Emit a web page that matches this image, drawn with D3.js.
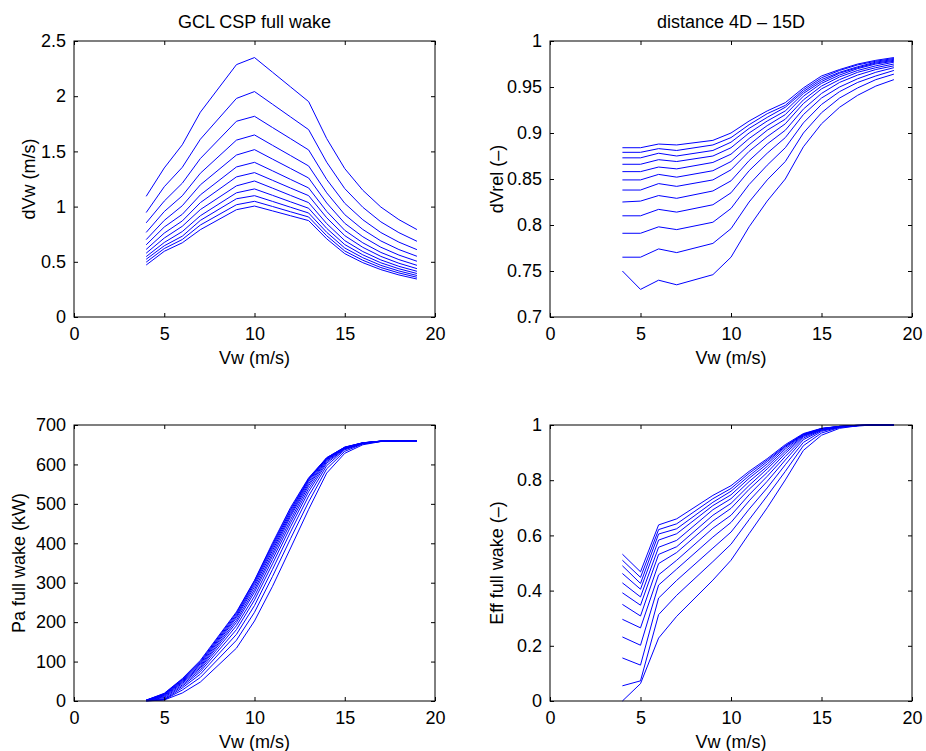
<!DOCTYPE html>
<html><head><meta charset="utf-8">
<script src="https://cdn.jsdelivr.net/npm/d3@7"></script>
<style>
body{margin:0;background:#fff}
text{font-family:"Liberation Sans",Arial,Helvetica,sans-serif;fill:#000}
</style>
</head><body>
<svg id="c" width="926" height="751"></svg>
<script>
// wind speeds (m/s)
const windSpeed = [4,5,6,7,9,10,11,12,13,14,15,16,17,18,19];
// downstream distances, one line each
const distances = ["4D","5D","6D","7D","8D","9D","10D","11D","12D","13D","14D","15D"];
const xTicks = [0,5,10,15,20];

// velocity deficit dVw (m/s), one row per distance
const dVwData = [
 [1.093,1.35,1.56,1.855,2.286,2.350,2.217,2.084,1.951,1.616,1.344,1.148,0.996,0.882,0.792],
 [0.946,1.18,1.356,1.61,1.98,2.042,1.927,1.812,1.697,1.402,1.163,0.994,0.862,0.764,0.686],
 [0.853,1.05,1.212,1.435,1.773,1.818,1.716,1.615,1.513,1.246,1.030,0.881,0.765,0.678,0.610],
 [0.766,0.955,1.098,1.302,1.602,1.649,1.555,1.462,1.368,1.125,0.927,0.793,0.689,0.611,0.550],
 [0.701,0.875,1.008,1.197,1.467,1.516,1.430,1.345,1.259,1.033,0.849,0.727,0.632,0.561,0.505],
 [0.654,0.815,0.93,1.106,1.359,1.401,1.324,1.246,1.169,0.957,0.785,0.672,0.585,0.520,0.468],
 [0.612,0.76,0.87,1.036,1.269,1.308,1.238,1.168,1.099,0.899,0.737,0.631,0.549,0.487,0.438],
 [0.578,0.715,0.822,0.973,1.188,1.232,1.167,1.101,1.036,0.846,0.692,0.593,0.517,0.459,0.414],
 [0.547,0.675,0.774,0.917,1.125,1.160,1.102,1.043,0.985,0.803,0.656,0.563,0.491,0.437,0.394],
 [0.523,0.645,0.732,0.875,1.071,1.099,1.047,0.994,0.942,0.767,0.625,0.537,0.468,0.417,0.376],
 [0.497,0.62,0.702,0.833,1.017,1.048,1.001,0.953,0.906,0.736,0.598,0.514,0.448,0.399,0.360],
 [0.471,0.595,0.672,0.791,0.972,1.005,0.961,0.917,0.873,0.708,0.574,0.492,0.429,0.381,0.344]
];
const dVwTicks = [0,0.5,1,1.5,2,2.5];

// relative velocity dVrel (-)
const dVrelData = [
 [0.750,0.730,0.740,0.735,0.746,0.765,0.798,0.826,0.850,0.885,0.910,0.928,0.941,0.951,0.958],
 [0.765,0.765,0.774,0.770,0.780,0.796,0.825,0.849,0.869,0.900,0.922,0.938,0.949,0.958,0.964],
 [0.791,0.791,0.798,0.795,0.803,0.818,0.844,0.865,0.884,0.911,0.931,0.945,0.955,0.962,0.968],
 [0.810,0.810,0.817,0.814,0.822,0.835,0.859,0.878,0.895,0.920,0.938,0.950,0.959,0.966,0.971],
 [0.825,0.826,0.832,0.829,0.837,0.848,0.870,0.888,0.903,0.926,0.943,0.955,0.963,0.969,0.973],
 [0.838,0.838,0.845,0.842,0.849,0.860,0.880,0.896,0.910,0.932,0.948,0.958,0.966,0.971,0.975],
 [0.849,0.849,0.855,0.852,0.859,0.869,0.887,0.903,0.915,0.936,0.951,0.961,0.968,0.973,0.977],
 [0.858,0.858,0.863,0.861,0.868,0.877,0.894,0.908,0.920,0.940,0.954,0.963,0.970,0.975,0.978],
 [0.866,0.866,0.871,0.869,0.875,0.884,0.900,0.913,0.924,0.943,0.956,0.965,0.971,0.976,0.979],
 [0.873,0.873,0.878,0.875,0.881,0.890,0.905,0.917,0.928,0.945,0.958,0.966,0.972,0.977,0.980],
 [0.879,0.879,0.883,0.881,0.887,0.895,0.909,0.921,0.930,0.947,0.960,0.968,0.974,0.978,0.981],
 [0.884,0.884,0.888,0.887,0.892,0.900,0.913,0.924,0.933,0.949,0.962,0.969,0.975,0.979,0.982]
];
const dVrelTicks = [0.7,0.75,0.8,0.85,0.9,0.95,1];

// power in full wake (kW)
const paData = [
 [0,2.6,20.3,48.0,134.0,203.0,291.0,388.0,486.0,578.0,628.2,649.9,658.0,660,660],
 [0.24,3.3,27.8,59.7,154.0,225.0,316.0,412.0,505.0,589.0,633.2,652.0,658.3,660,660],
 [0.66,3.8,33.2,68.1,169.0,242.0,334.0,429.0,520.0,597.0,637.0,652.7,658.5,660,660],
 [0.96,5.9,37.4,74.5,181.0,256.0,348.0,442.0,531.0,603.0,639.0,653.2,658.6,660,660],
 [1.2,8.8,40.7,79.5,191.0,266.0,359.0,452.0,539.0,607.0,640.0,653.7,658.7,660,660],
 [1.41,11.0,44.4,83.9,199.0,276.0,368.0,460.0,546.0,610.0,641.1,654.0,658.8,660,660],
 [1.58,13.1,47.2,87.3,205.0,283.0,375.0,468.0,551.0,612.0,641.7,654.3,658.9,660,660],
 [1.73,14.7,49.5,90.8,211.0,290.0,382.0,473.0,556.0,614.0,642.3,654.4,659.0,660,660],
 [1.86,16.2,51.8,94.6,215.0,296.0,388.0,478.0,560.0,615.0,642.8,654.6,659.0,660,660],
 [1.97,17.5,53.9,97.4,219.0,301.0,393.0,483.0,562.0,616.0,643.2,654.7,659.0,660,660],
 [2.06,18.6,55.3,100.2,223.0,305.0,397.0,487.0,564.0,617.0,643.6,654.9,659.1,660,660],
 [2.14,19.5,56.7,103.0,226.0,306.0,401.0,491.0,566.0,617.0,644.0,655.0,659.2,660,660]
];
const paTicks = [0,100,200,300,400,500,600,700];

// efficiency in full wake (-)
const effData = [
 [0,0.063,0.228,0.307,0.438,0.510,0.606,0.700,0.801,0.908,0.963,0.988,0.997,1,1],
 [0.055,0.073,0.313,0.383,0.505,0.568,0.657,0.743,0.832,0.925,0.971,0.991,0.997,1,1],
 [0.156,0.130,0.373,0.437,0.554,0.612,0.695,0.772,0.856,0.937,0.977,0.992,0.998,1,1],
 [0.232,0.202,0.420,0.478,0.594,0.647,0.725,0.796,0.873,0.947,0.980,0.993,0.998,1,1],
 [0.296,0.265,0.457,0.510,0.626,0.673,0.747,0.814,0.886,0.953,0.982,0.993,0.998,1,1],
 [0.350,0.308,0.498,0.538,0.652,0.698,0.767,0.828,0.897,0.958,0.983,0.994,0.998,1,1],
 [0.392,0.347,0.531,0.559,0.673,0.716,0.781,0.841,0.905,0.961,0.984,0.994,0.998,1,1],
 [0.428,0.377,0.557,0.582,0.693,0.733,0.795,0.850,0.913,0.963,0.985,0.995,0.998,1,1],
 [0.462,0.405,0.583,0.606,0.708,0.747,0.807,0.859,0.919,0.965,0.986,0.995,0.998,1,1],
 [0.490,0.426,0.605,0.624,0.720,0.760,0.816,0.867,0.923,0.966,0.987,0.995,0.999,1,1],
 [0.510,0.448,0.621,0.642,0.733,0.770,0.825,0.873,0.925,0.967,0.987,0.995,0.999,1,1],
 [0.532,0.468,0.638,0.660,0.745,0.780,0.832,0.878,0.929,0.969,0.988,0.995,0.999,1,1]
];
const effTicks = [0,0.2,0.4,0.6,0.8,1];

const svg = d3.select("#c");
const FS = 18;
const panels = [
  {data:dVwData, box:[74,41,435,317], y:[0,2.5], ticks:dVwTicks, ylabel:"dVw (m/s)", title:"GCL CSP full wake", ylx:29},
  {data:dVrelData, box:[550,41,912,317], y:[0.7,1], ticks:dVrelTicks, ylabel:"dVrel (\u2013)", title:"distance 4D \u2013 15D", ylx:497},
  {data:paData, box:[74,425,435,701], y:[0,700], ticks:paTicks, ylabel:"Pa full wake (kW)", title:null, ylx:19},
  {data:effData, box:[550,425,912,701], y:[0,1], ticks:effTicks, ylabel:"Eff full wake (\u2013)", title:null, ylx:497}
];
const fmt = v => String(+v.toFixed(4));

panels.forEach(p => {
  const [x0,y0,x1,y1] = p.box;
  const xs = d3.scaleLinear().domain([0,20]).range([x0,x1]);
  const ys = d3.scaleLinear().domain(p.y).range([y1,y0]);
  const g = svg.append("g");
  const line = d3.line().x((d,i)=>xs(windSpeed[i])).y(d=>ys(d));
  g.selectAll("path.s").data(p.data).enter().append("path")
    .attr("class","s").attr("d",line).attr("fill","none")
    .attr("stroke","#0000ff").attr("stroke-width",1);
  const tl = 4;
  const ax = (axis, tr) => g.append("g").attr("transform",tr).call(axis)
     .call(s=>s.select(".domain").remove())
     .call(s=>s.selectAll("line").attr("stroke","#000"));
  const bottom = ax(d3.axisBottom(xs).tickValues(xTicks).tickSize(-tl).tickPadding(10).tickFormat(fmt), `translate(0,${y1})`);
  bottom.selectAll("text").attr("font-size",FS).attr("font-family","Liberation Sans, Arial, sans-serif");
  ax(d3.axisTop(xs).tickValues(xTicks).tickSize(-tl).tickFormat(""), `translate(0,${y0})`);
  const left = ax(d3.axisLeft(ys).tickValues(p.ticks).tickSize(-tl).tickPadding(8).tickFormat(fmt), `translate(${x0},0)`);
  left.selectAll("text").attr("font-size",FS).attr("font-family","Liberation Sans, Arial, sans-serif");
  ax(d3.axisRight(ys).tickValues(p.ticks).tickSize(-tl).tickFormat(""), `translate(${x1},0)`);
  g.append("rect").attr("x",x0).attr("y",y0).attr("width",x1-x0).attr("height",y1-y0)
    .attr("fill","none").attr("stroke","#000").attr("stroke-width",1);
  g.append("text").attr("x",(x0+x1)/2).attr("y",y1+47).attr("text-anchor","middle")
    .attr("font-size",FS).text("Vw (m/s)");
  g.append("text").attr("transform",`translate(${p.ylx},${(y0+y1)/2}) rotate(-90)`)
    .attr("text-anchor","middle").attr("dy","0.35em").attr("font-size",FS).text(p.ylabel);
  if (p.title) g.append("text").attr("x",(x0+x1)/2).attr("y",y0-13).attr("text-anchor","middle")
    .attr("font-size",FS).text(p.title);
});
</script>
</body></html>
